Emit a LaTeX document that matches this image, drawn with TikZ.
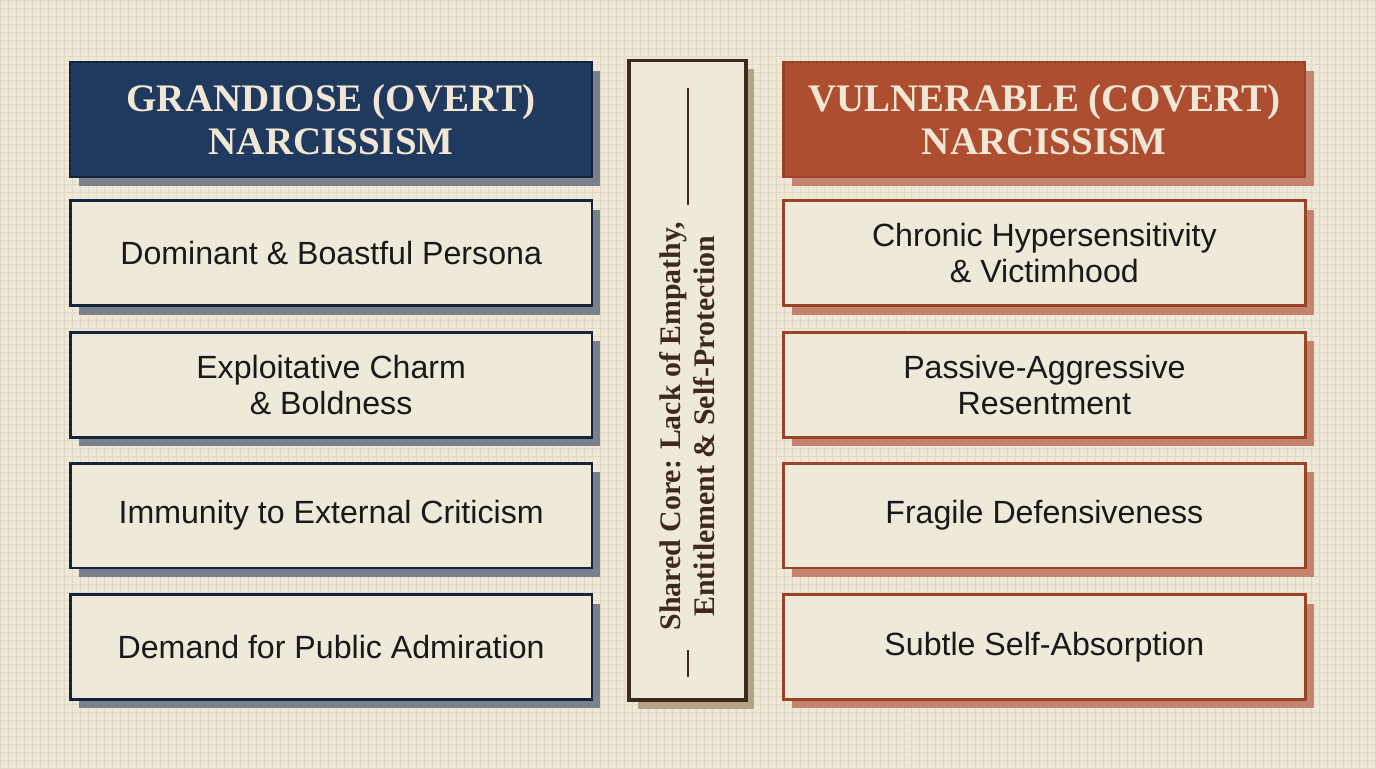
\documentclass[tikz,border=0pt]{standalone}
\usepackage{fontspec}
\setmainfont{Liberation Serif}
\setsansfont{Liberation Sans}
\usetikzlibrary{shadows,positioning}
\definecolor{paper}{HTML}{EEE8D8}
\definecolor{gridline}{HTML}{E2D9C5}
\definecolor{card}{HTML}{EFE9DA}
\definecolor{navy}{HTML}{1F3A5E}
\definecolor{navyline}{HTML}{15233C}
\definecolor{navyshade}{HTML}{7B808D}
\definecolor{rust}{HTML}{AE4E30}
\definecolor{rustline}{HTML}{9C4226}
\definecolor{rustshade}{HTML}{C4836E}
\definecolor{cream}{HTML}{F2E6D4}
\definecolor{bark}{HTML}{3E2A1C}
\definecolor{barkshade}{HTML}{B4A487}
\tikzset{
  head/.style={minimum width=10.44cm, minimum height=2.3cm, outer sep=0pt,
               line width=1.3pt, align=center, text=cream,
               font=\fontsize{22.2}{24}\selectfont\bfseries},
  trait/.style={minimum width=10.44cm, minimum height=2.1cm, outer sep=0pt,
               line width=1.6pt, fill=card, align=center, text=black!90,
               font=\sffamily\fontsize{18.3}{20.5}\selectfont},
  shade/.style={drop shadow={shadow xshift=0.17cm, shadow yshift=-0.18cm,
               fill=#1, opacity=1}},
  core/.style={minimum width=2.34cm, minimum height=12.8cm, outer sep=0pt,
               line width=1.8pt, draw=bark, fill=card},
}
\begin{document}
\begin{tikzpicture}[x=0.02cm, y=-0.02cm]
  \fill[paper] (0,0) rectangle (1376,768);
  \draw[gridline, line width=0.3pt, step=0.16cm] (0,0) grid (1376,768);
  \useasboundingbox (0,0) rectangle (1376,768);
  % left column
  \node[head, fill=navy, draw=navyline, shade=navyshade] (grand) at (331,119.5)
    {GRANDIOSE (OVERT)\\NARCISSISM};
  \foreach \n/\y/\t in {1/253/{Dominant \& Boastful Persona},
                        2/384.5/{Exploitative Charm\\\& Boldness},
                        3/515.5/{Immunity to External Criticism},
                        4/647/{Demand for Public Admiration}}
    \node[trait, draw=navyline, shade=navyshade] (g\n) at (331,\y) {\t};
  % right column
  \node[head, fill=rust, draw=rustline, shade=rustshade] (vuln) at (1044.5,119.5)
    {VULNERABLE (COVERT)\\NARCISSISM};
  \foreach \n/\y/\t in {1/253/{Chronic Hypersensitivity\\\& Victimhood},
                        2/384.5/{Passive-Aggressive\\Resentment},
                        3/515.5/{Fragile Defensiveness},
                        4/647/{Subtle Self-Absorption}}
    \node[trait, draw=rustline, shade=rustshade] (v\n) at (1044.5,\y) {\t};
  % shared core
  \node[core, shade=barkshade] (shared) at (687.5,380) {};
  \node[rotate=90, align=center, text=bark,
        font=\fontsize{17}{19.5}\selectfont\bfseries] (corelabel) at (687.5,426)
    {Shared Core: Lack of Empathy,\\Entitlement \& Self-Protection};
  \draw[bark, line width=1.6pt] (688,88) -- (688,205);
  \draw[bark, line width=1.6pt] (688,650) -- (688,677);
\end{tikzpicture}
\end{document}
